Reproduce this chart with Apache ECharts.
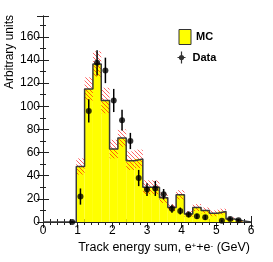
<!DOCTYPE html>
<html><head><meta charset="utf-8">
<script src="https://cdn.jsdelivr.net/npm/echarts@6/dist/echarts.min.js"></script>
<style>html,body{margin:0;padding:0;background:#fff}#c{width:273px;height:262px}</style>
</head><body><div id="c"></div>
<script>
// Histogram bins (GeV)
const binEdges = [0,0.24,0.48,0.72,0.96,1.2,1.44,1.68,1.92,2.16,2.4,2.64,2.88,3.12,3.36,3.6,3.84,4.08,4.32,4.56,4.8,5.04,5.28,5.52,5.76,6.0];
// MC histogram contents and uncertainty band half-widths
const mcValues = [0,0,0,0,48,115,136.5,105,63,72.5,53,54.5,30,30,21,12.5,23.5,7,12.5,10,7.5,9,2.5,1,0];
const mcUncert = [0,0,0,0,7,10,11,11,8,7.5,8,8,6,6,4.5,3,4,2.5,3,2.5,2.5,2.5,1.5,1,0];
// Data points
const dataX = [0.84,1.08,1.32,1.56,1.80,2.04,2.28,2.52,2.76,3.00,3.24,3.48,3.72,3.96,4.20,4.44,4.68,5.16,5.40,5.64];
const dataY = [0,22,96,137.5,131,105,88,70,38,28,29,24,11.5,9.5,6.5,5,4,1,2.5,1.5];
const dataErr = [0.5,7,10,11,11,10,9,7,7,5.5,6.5,4.5,3.5,3,2.5,2.2,2,1,1.5,1.2];
const seriesNames = ['MC','Data'];
const xTitle = 'Track energy sum, e{sup|+}+e{sup|-} (GeV)';
const yTitle = 'Arbitrary units';

function hatch(){
  const c=document.createElement('canvas'); c.width=4; c.height=4;
  const g=c.getContext('2d'); g.fillStyle='rgba(255,0,0,0.6)';
  for(let i=0;i<4;i++) g.fillRect(i,i,1,1);
  return c;
}

const fillData = [], bandData = [], outline = [];
for (let i=0;i<mcValues.length;i++){
  fillData.push([binEdges[i], binEdges[i+1], mcValues[i]]);
  if (mcUncert[i]>0) bandData.push([binEdges[i], binEdges[i+1], mcValues[i]-mcUncert[i], mcValues[i]+mcUncert[i]]);
  outline.push([binEdges[i], mcValues[i]], [binEdges[i+1], mcValues[i]]);
}
const pts = dataX.map((x,i)=>[x, dataY[i]]);
const errs = dataX.map((x,i)=>[x, dataY[i], dataErr[i]]);

const FONT='Liberation Sans';
const axisCol='#222';
const chart = echarts.init(document.getElementById('c'), null, {renderer:'canvas'});
const xBase = {type:'value', min:0, max:6, interval:1,
  axisLine:{show:true, lineStyle:{color:axisCol, width:1}},
  axisTick:{show:true, inside:true, length:6, lineStyle:{color:axisCol}},
  minorTick:{show:true, splitNumber:5, length:3, lineStyle:{color:axisCol}},
  splitLine:{show:false}, minorSplitLine:{show:false}};
const yBase = {type:'value', min:0, max:178, interval:20,
  axisLine:{show:true, lineStyle:{color:axisCol, width:1}},
  axisTick:{show:true, inside:true, length:6, lineStyle:{color:axisCol}},
  minorTick:{show:true, splitNumber:2, length:3, lineStyle:{color:axisCol}},
  splitLine:{show:false}, minorSplitLine:{show:false}};

chart.setOption({
  animation:false,
  grid:{left:43, right:22, top:16, bottom:40},
  xAxis:[
    Object.assign({}, xBase, {position:'bottom', axisLabel:{fontFamily:FONT, fontSize:12, color:'#000', margin:3}}),
    Object.assign({}, xBase, {position:'top', axisLabel:{show:false}})
  ],
  yAxis:[
    Object.assign({}, yBase, {position:'left', axisLabel:{fontFamily:FONT, fontSize:12, color:'#000', margin:3, showMaxLabel:false}}),
    Object.assign({}, yBase, {position:'right', axisLabel:{show:false}})
  ],
  legend:[
    {data:[{name:'MC', icon:'rect', itemStyle:{color:'#ffff00', borderColor:'#333', borderWidth:1}}],
     left:178.5, top:29, padding:0, itemWidth:12, itemHeight:15, selectedMode:false,
     textStyle:{fontFamily:FONT, fontWeight:'bold', fontSize:11, color:'#000'}},
    {data:[{name:'Data', icon:'path://M0,5.4L8,5.4L8,6.6L0,6.6Z M3.4,0L4.6,0L4.6,12L3.4,12Z M4,3.4A2.6,2.6 0 1 1 4,8.6A2.6,2.6 0 1 1 4,3.4Z', itemStyle:{color:'#000'}}],
     left:177.5, top:51.5, padding:0, itemWidth:12, itemHeight:12, selectedMode:false,
     textStyle:{fontFamily:FONT, fontWeight:'bold', fontSize:11, color:'#000'}}
  ],
  graphic:[
    {type:'text', x:250, y:248, style:{text:xTitle, align:'right', verticalAlign:'middle',
      fontFamily:FONT, fontSize:12.5, fill:'#000',
      rich:{sup:{fontFamily:FONT, fontSize:8, verticalAlign:'top', fill:'#000'}}}},
    {type:'text', x:10, y:15, rotation:Math.PI/2, style:{text:yTitle, align:'right', verticalAlign:'middle',
      fontFamily:FONT, fontSize:12, fill:'#000'}}
  ],
  series:[
    {name:seriesNames[0], type:'custom', data:fillData, z:1, itemStyle:{color:'#ffff00'},
     renderItem:(p,api)=>{
       const a=api.coord([api.value(0),0]), b=api.coord([api.value(1),api.value(2)]);
       return {type:'rect', shape:{x:a[0], y:b[1], width:b[0]-a[0], height:a[1]-b[1]}, style:{fill:'#ffff00'}};
     }},
    {type:'custom', data:bandData, z:2,
     renderItem:(p,api)=>{
       const a=api.coord([api.value(0),api.value(2)]), b=api.coord([api.value(1),api.value(3)]);
       return {type:'rect', shape:{x:a[0], y:b[1], width:b[0]-a[0], height:a[1]-b[1]}, style:{fill:{image:hatch(), repeat:'repeat'}}};
     }},
    {type:'line', data:outline, z:3, symbol:'none', lineStyle:{color:'#3a3a3a', width:1.5}, silent:true},
    {type:'custom', data:errs, z:4,
     renderItem:(p,api)=>{
       const x=api.value(0), y=api.value(1), e=api.value(2);
       const a=api.coord([x,y-e]), b=api.coord([x,y+e]);
       return {type:'line', shape:{x1:a[0], y1:a[1], x2:b[0], y2:b[1]}, style:{stroke:'#000', lineWidth:1.5}};
     }},
    {name:seriesNames[1], type:'scatter', data:pts, z:5, symbol:'circle', symbolSize:6, itemStyle:{color:'#000'}}
  ]
});
</script></body></html>
